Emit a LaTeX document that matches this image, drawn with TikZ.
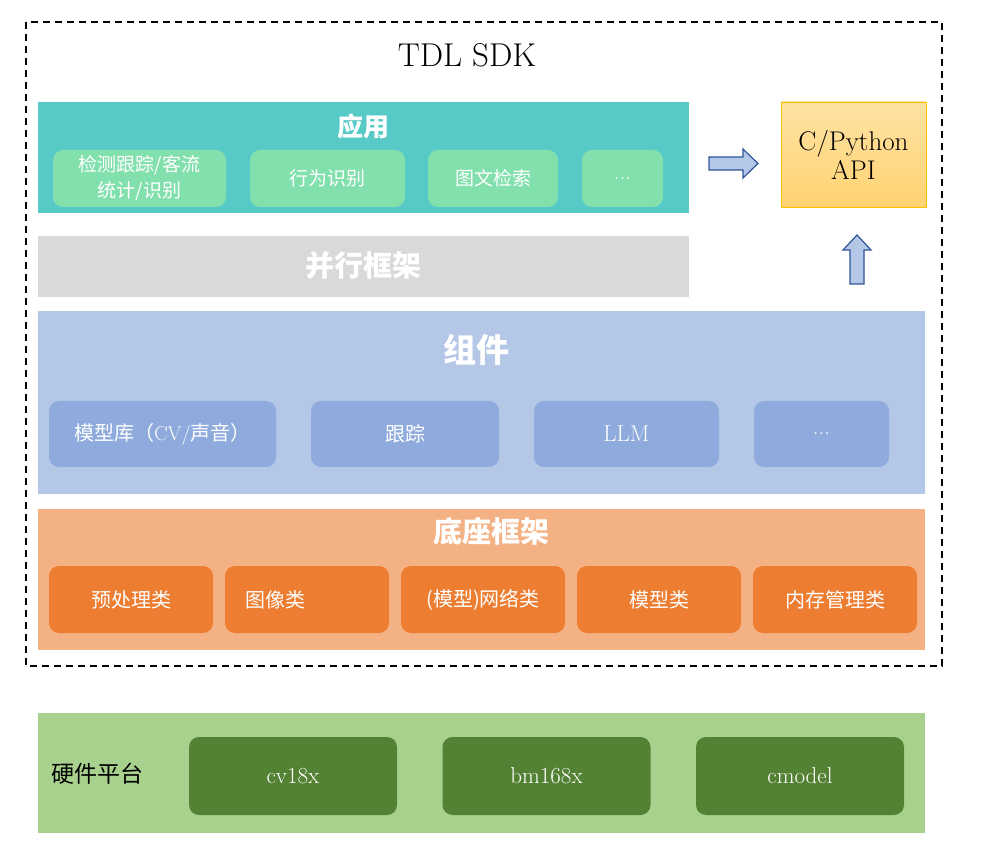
\documentclass[tikz,border=0pt]{standalone}
\usepackage{fontspec}
\newfontfamily\cjk{Noto Sans CJK SC}
\usetikzlibrary{calc,
	positioning}
\definecolor{appfill}{HTML}{57CAC8}
\definecolor{appcellfill}{HTML}{82E0AD}
\definecolor{parafill}{HTML}{D9D9D9}
\definecolor{compfill}{HTML}{B4C7E7}
\definecolor{compcellfill}{HTML}{8FAADC}
\definecolor{basefill}{HTML}{F4B183}
\definecolor{basecellfill}{HTML}{ED7D31}
\definecolor{hwfill}{HTML}{A9D18E}
\definecolor{hwcellfill}{HTML}{548235}
\definecolor{apitop}{HTML}{FFE2A3}
\definecolor{apibottom}{HTML}{FFD372}
\definecolor{apiborder}{HTML}{FFC000}
\definecolor{arrowfill}{HTML}{B4C7E7}
\definecolor{arrowline}{HTML}{2F5597}

\begin{document}
\begin{tikzpicture}[x=1pt,y=-1pt,
	band/.style={inner sep=0pt, outer sep=0pt},
	cell/.style={rounded corners=10pt, inner sep=0pt, text=white, align=center},
	head/.style={text=white, inner sep=0pt},
	blockarrow/.style={fill=arrowfill, draw=arrowline, line width=1.2pt, line join=miter}]
	\useasboundingbox (0,0) rectangle (991,858);
	% SDK frame
	\draw[line width=2pt, dash pattern=on 7pt off 5pt] (26,22) rectangle (942,666);
	\node[font=\fontsize{33}{38}\selectfont] (sdk) at (467,55) {TDL SDK};
	% layers
	\node[band, fill=appfill, minimum width=651pt, minimum height=111pt] (app) at (363.5,157.5) {};
	\node[band, fill=parafill, minimum width=651pt, minimum height=61pt] (para) at (363.5,266.5) {};
	\node[band, fill=compfill, minimum width=887pt, minimum height=183pt] (comp) at (481.5,402.5) {};
	\node[band, fill=basefill, minimum width=887pt, minimum height=141pt] (base) at (481.5,579.5) {};
	\node[band, fill=hwfill, minimum width=887pt, minimum height=120pt] (hw) at (481.5,773) {};
	% layer titles
	\node[head, font=\cjk\bfseries\fontsize{26}{30}\selectfont] (apptitle) at (363,127) {应用};
	\node[head, font=\cjk\bfseries\fontsize{29}{34}\selectfont] (paratitle) at (363,266) {并行框架};
	\node[head, font=\cjk\bfseries\fontsize{33}{38}\selectfont] (comptitle) at (476,350) {组件};
	\node[head, font=\cjk\bfseries\fontsize{29}{34}\selectfont] (basetitle) at (491,531) {底座框架};
	\node[anchor=west, inner sep=0pt, font=\cjk\fontsize{23}{28}\selectfont] (hwtitle) at (51,774) {硬件平台};
	% application cells
	\foreach \cx/\w/\txt [count=\n] in {139.5/173/{\cjk 检测跟踪/客流\\\cjk 统计/识别},
		327.5/155/{\cjk 行为识别}, 493/130/{\cjk 图文检索}, 622.5/81/{\fontsize{23}{26}\selectfont ...}} {
		\node[cell, fill=appcellfill, minimum width=\w pt, minimum height=57pt,
			font=\fontsize{19}{26}\selectfont] (app\n) at (\cx,178.5) {\txt};
	}
	% component cells
	\foreach \cx/\w/\txt [count=\n] in {162.5/227/{{\cjk 模型库（}CV/{\cjk 声音）}},
		405/188/{\cjk 跟踪}, 626.5/185/{\fontsize{23}{26}\selectfont LLM}, 821.5/135/{\fontsize{23}{26}\selectfont ...}} {
		\node[cell, fill=compcellfill, minimum width=\w pt, minimum height=66pt,
			font=\fontsize{20}{24}\selectfont] (comp\n) at (\cx,434) {\txt};
	}
	% base cells
	\foreach \txt [count=\n from 0] in {预处理类, \makebox[124pt][l]{图像类}, (模型)网络类, 模型类, 内存管理类} {
		\pgfmathsetmacro{\cx}{131+176*\n}
		\node[cell, fill=basecellfill, minimum width=164pt, minimum height=67pt,
			font=\cjk\fontsize{20}{24}\selectfont] (base\n) at (\cx,599.5) {\txt};
	}
	% hardware cells
	\foreach \cx/\txt [count=\n] in {293/cv18x, 546.5/bm168x, 800/cmodel} {
		\node[cell, fill=hwcellfill, minimum width=208pt, minimum height=78pt,
			font=\fontsize{23}{27}\selectfont] (hw\n) at (\cx,776) {\txt};
	}
	% API
	\node[draw=apiborder, line width=0.8pt, top color=apitop, bottom color=apibottom,
		minimum width=145pt, minimum height=105pt, inner sep=0pt, align=center,
		font=\fontsize{27}{29}\selectfont] (api) at (853.5,154.5) {C/Python\\API};
	\draw[blockarrow] (709,157) -- (743,157) -- (743,149) -- (758,163.5) -- (743,178) -- (743,170) -- (709,170) -- cycle;
	\draw[blockarrow] (850,284) -- (850,250) -- (843,250) -- (857,235) -- (871,250) -- (864,250) -- (864,284) -- cycle;
\end{tikzpicture}
\end{document}
